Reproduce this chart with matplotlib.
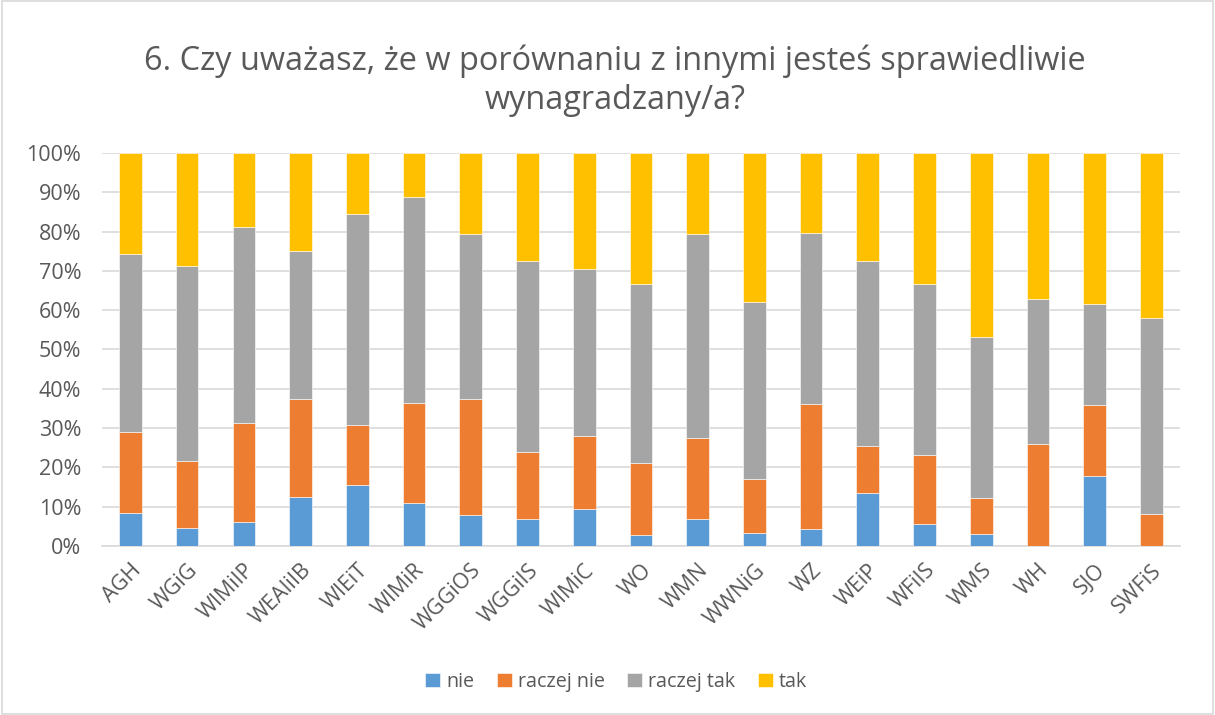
import matplotlib
matplotlib.use("Agg")
import matplotlib.pyplot as plt
import numpy as np
from matplotlib.patches import Rectangle

categories = ["AGH", "WGiG", "WIMiIP", "WEAIiIB", "WIEiT", "WIMiR", "WGGiOS", "WGGiIS",
              "WIMiC", "WO", "WMN", "WWNiG", "WZ", "WEiP", "WFiIS", "WMS", "WH", "SJO", "SWFiS"]
nie        = [8.5, 4.5, 6.1, 12.4, 15.4, 11.0, 7.8, 6.8, 9.3, 2.9, 6.8, 3.2, 4.2, 13.6, 5.7, 3.0, 0.0, 17.9, 0.0]
raczej_nie = [20.6, 17.2, 25.1, 25.0, 15.5, 25.5, 29.6, 17.2, 18.8, 18.2, 20.8, 13.9, 32.0, 11.8, 17.4, 9.3, 25.9, 17.9, 8.2]
raczej_tak = [45.3, 49.5, 50.0, 37.6, 53.7, 52.4, 42.1, 48.4, 42.3, 45.5, 51.7, 45.0, 43.5, 47.0, 43.5, 40.8, 37.0, 25.7, 49.9]
series_names = ["nie", "raczej nie", "raczej tak", "tak"]
colors = ["#5B9BD5", "#ED7D31", "#A5A5A5", "#FFC000"]
title = "6. Czy uważasz, że w porównaniu z innymi jesteś sprawiedliwie\nwynagradzany/a?"

plt.rcParams['font.family'] = ['Open Sans', 'DejaVu Sans']

nie_a = np.array(nie)
rn_a = np.array(raczej_nie)
rt_a = np.array(raczej_tak)
tak_a = 100 - nie_a - rn_a - rt_a
data = [nie_a, rn_a, rt_a, tak_a]

fig = plt.figure(figsize=(12.15, 7.15), dpi=100)
fig.patch.set_facecolor("white")
fig.add_artist(Rectangle((0.002, 0.002), 0.996, 0.996, transform=fig.transFigure,
                         fill=False, edgecolor="#D9D9D9", linewidth=1.2))
ax = fig.add_axes([0.084, 0.2364, 0.887, 0.5496])

x = np.arange(len(categories))
bottom = np.zeros(len(categories))
for vals, name, c in zip(data, series_names, colors):
    ax.bar(x, vals / 100.0, bottom=bottom / 100.0, width=0.4, color=c, label=name,
           edgecolor="white", linewidth=0.4, zorder=3)
    bottom += vals

ax.set_xlim(-0.5, len(categories) - 0.5)
ax.set_ylim(0, 1)
ax.set_yticks(np.linspace(0, 1, 11))
ax.set_yticklabels([f"{int(round(v*100))}%" for v in np.linspace(0, 1, 11)],
                   fontsize=15.5, color="#595959")
ax.set_xticks(x)
ax.set_xticklabels(categories, rotation=45, ha="right", rotation_mode="anchor",
                   fontsize=15.5, color="#595959")
ax.tick_params(axis="y", length=0, pad=15)
ax.tick_params(axis="x", length=0, pad=10)
ax.grid(axis="y", color="#D9D9D9", linewidth=1.2, zorder=0)
for s in ["top", "right", "left"]:
    ax.spines[s].set_visible(False)
ax.spines["bottom"].set_color("#D9D9D9")
ax.spines["bottom"].set_linewidth(1.2)

fig.text(0.506, 0.887, title, ha="center", va="center", fontsize=23.4, color="#595959",
         linespacing=1.22)

fig.legend(loc="center", bbox_to_anchor=(0.507, 0.046), ncol=4, frameon=False,
           fontsize=14.2, handlelength=0.75, handleheight=0.75, handletextpad=0.3,
           columnspacing=1.15, labelcolor="#595959")

fig.savefig("out.png", dpi=100)
